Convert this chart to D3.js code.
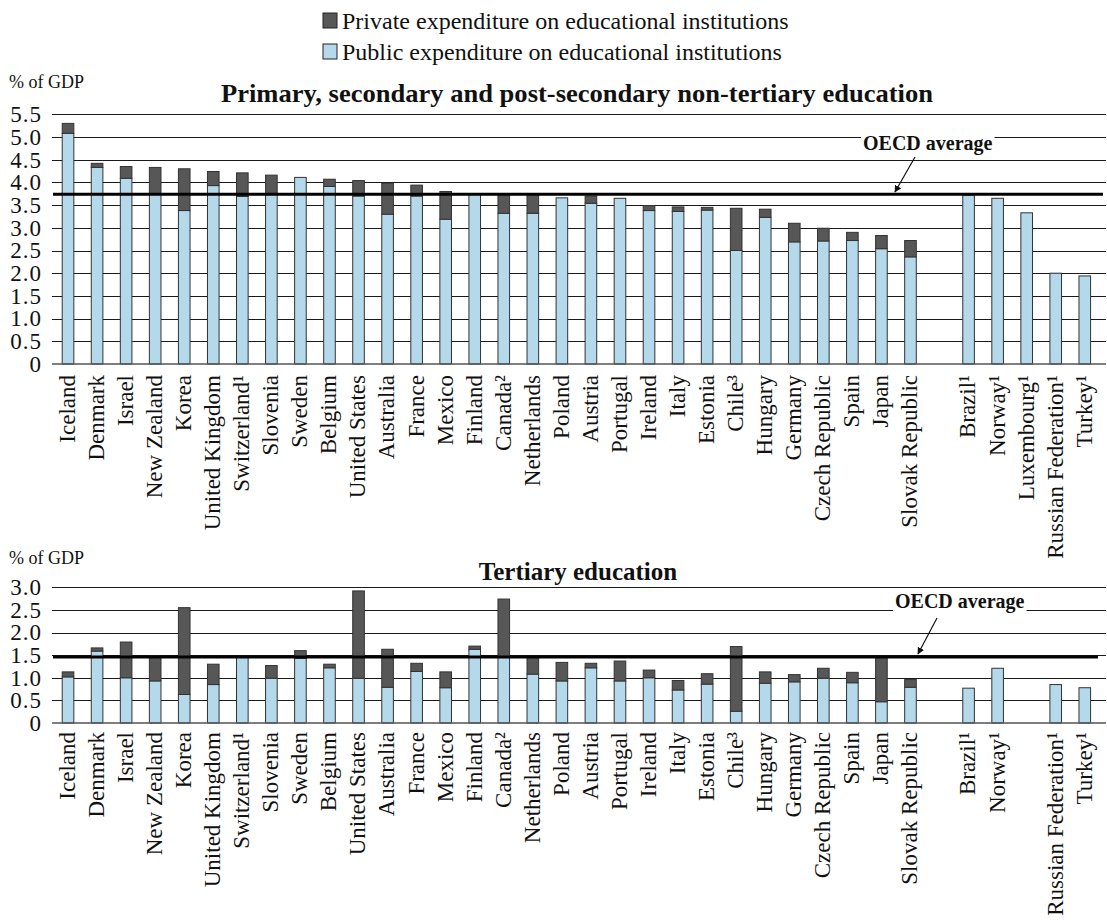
<!DOCTYPE html>
<html>
<head>
<meta charset="utf-8">
<script src="https://cdn.jsdelivr.net/npm/d3@7"></script>
<style>
  html, body { margin: 0; padding: 0; background: #fff; }
  svg { display: block; font-family: "Liberation Serif", "Times New Roman", serif; }
</style>
</head>
<body>
<svg id="chart" width="1107" height="920"></svg>
<script>
// ---------------- DATA ----------------
const categories = ["Iceland","Denmark","Israel","New Zealand","Korea","United Kingdom","Switzerland¹","Slovenia","Sweden","Belgium","United States","Australia","France","Mexico","Finland","Canada²","Netherlands","Poland","Austria","Portugal","Ireland","Italy","Estonia","Chile³","Hungary","Germany","Czech Republic","Spain","Japan","Slovak Republic","Brazil¹","Norway¹","Luxembourg¹","Russian Federation¹","Turkey¹"];
const gapAfter = "Slovak Republic";

// Primary, secondary and post-secondary non-tertiary education (% of GDP)
const primaryPublic  = [5.08,4.33,4.09,3.74,3.38,3.93,3.69,3.74,4.11,3.91,3.70,3.30,3.70,3.19,3.75,3.32,3.32,3.66,3.54,3.65,3.38,3.36,3.39,2.50,3.23,2.69,2.71,2.72,2.54,2.36,3.72,3.65,3.33,2.00,1.94];
const primaryPrivate = [0.22,0.09,0.26,0.59,0.92,0.31,0.52,0.42,0.00,0.16,0.34,0.68,0.24,0.61,0.00,0.43,0.43,0.00,0.16,0.00,0.11,0.10,0.06,0.93,0.18,0.41,0.28,0.18,0.29,0.36,0,0,0,0,0];
const primaryOECD = 3.74;

// Tertiary education (% of GDP); null = not shown
const tertiaryPublic  = [1.02,1.59,1.00,0.93,0.63,0.85,1.47,0.99,1.43,1.22,0.99,0.79,1.14,0.78,1.63,1.47,1.08,0.93,1.22,0.93,1.00,0.73,0.86,0.26,0.88,0.91,0.99,0.89,0.47,0.79,0.77,1.21,null,0.85,0.78];
const tertiaryPrivate = [0.11,0.07,0.79,0.55,1.92,0.45,0.00,0.28,0.17,0.08,1.93,0.84,0.18,0.35,0.07,1.27,0.39,0.41,0.10,0.44,0.17,0.21,0.23,1.43,0.25,0.16,0.22,0.23,0.98,0.17,0,0,null,0,0];
const tertiaryOECD = 1.46;

const primaryTicks  = [0,0.5,1.0,1.5,2.0,2.5,3.0,3.5,4.0,4.5,5.0,5.5];
const tertiaryTicks = [0,0.5,1.0,1.5,2.0,2.5,3.0];

const legendLabels = ["Private expenditure on educational institutions","Public expenditure on educational institutions"];
const titles = ["Primary, secondary and post-secondary non-tertiary education","Tertiary education"];
const yAxisLabel = "% of GDP";
const avgLabel = "OECD average";

// ---------------- STYLE ----------------
const COL_PUBLIC = "#b4d9eb";
const COL_PRIVATE = "#575757";
const COL_EDGE = "#333333";

const svg = d3.select("#chart");

// slot domain with a blank gap slot
const slots = [];
categories.forEach(c => { slots.push(c); if (c === gapAfter) slots.push("__gap__"); });

const x = d3.scaleBand().domain(slots).range([53.5, 1099.3]).paddingInner(0.6).paddingOuter(0.3);

const GRID_X0 = 52, GRID_X1 = 1106;

function panel(cfg) {
  const y = d3.scaleLinear().domain([0, cfg.max]).range([cfg.y0, cfg.y1]);
  const g = svg.append("g");

  // gridlines
  g.append("g")
    .attr("transform", `translate(${GRID_X0},0)`)
    .call(d3.axisLeft(y).tickValues(cfg.ticks.filter(d => d > 0)).tickSize(-(GRID_X1 - GRID_X0)).tickFormat(""))
    .call(a => a.select(".domain").remove())
    .call(a => a.selectAll("line").attr("stroke", "#1a1a1a").attr("stroke-width", 1).attr("shape-rendering", "crispEdges"));

  // y tick labels
  g.append("g")
    .attr("transform", `translate(44,0)`)
    .call(d3.axisLeft(y).tickValues(cfg.ticks).tickSize(0).tickPadding(2).tickFormat(d => d === 0 ? "0" : d3.format(".1f")(d)))
    .call(a => a.select(".domain").remove())
    .call(a => a.selectAll("text").attr("font-size", 23).attr("letter-spacing", 1).attr("fill", "#111").attr("font-family", "Liberation Serif, serif"));

  // bars
  const rows = categories.map((c, i) => ({ c, pub: cfg.pub[i], priv: cfg.priv[i] })).filter(d => d.pub !== null);
  const bars = g.append("g");
  bars.selectAll("rect.pub").data(rows).join("rect")
    .attr("class", "pub")
    .attr("x", d => x(d.c)).attr("width", x.bandwidth())
    .attr("y", d => y(d.pub)).attr("height", d => y(0) - y(d.pub))
    .attr("fill", COL_PUBLIC).attr("stroke", COL_EDGE).attr("stroke-width", 1);
  bars.selectAll("rect.priv").data(rows.filter(d => d.priv > 0)).join("rect")
    .attr("class", "priv")
    .attr("x", d => x(d.c)).attr("width", x.bandwidth())
    .attr("y", d => y(d.pub + d.priv)).attr("height", d => y(d.pub) - y(d.pub + d.priv))
    .attr("fill", COL_PRIVATE).attr("stroke", COL_EDGE).attr("stroke-width", 1);

  // zero axis line
  g.append("line").attr("x1", GRID_X0).attr("x2", GRID_X1).attr("y1", y(0)).attr("y2", y(0))
    .attr("stroke", "#555").attr("stroke-width", 1.5);

  // category labels
  const labelled = categories.filter((c, i) => cfg.pub[i] !== null);
  const xa = g.append("g").attr("transform", `translate(0,${y(0)})`)
    .call(d3.axisBottom(x).tickValues(labelled).tickSize(0))
    .call(a => a.select(".domain").remove());
  xa.selectAll("text")
    .attr("transform", "rotate(-90)")
    .attr("x", -(cfg.labelGap)).attr("y", 0).attr("dy", "0.3em")
    .style("text-anchor", "end")
    .attr("font-size", 23).attr("fill", "#111").attr("font-family", "Liberation Serif, serif");

  // OECD average line
  g.append("line").attr("x1", 53).attr("x2", cfg.avgX1).attr("y1", y(cfg.avg)).attr("y2", y(cfg.avg))
    .attr("stroke", "#000").attr("stroke-width", 3);

  // OECD label with white background
  const lab = g.append("g");
  const bgRect = lab.append("rect").attr("fill", "#fff");
  const t = lab.append("text").attr("x", cfg.avgLabelX).attr("y", cfg.avgLabelBaseline)
    .attr("font-size", 20).attr("font-weight", "bold").attr("fill", "#111").text(avgLabel);
  const bb = t.node().getBBox();
  bgRect.attr("x", bb.x - 2).attr("y", bb.y).attr("width", bb.width + 4).attr("height", bb.height);

  // arrow
  g.append("line")
    .attr("x1", cfg.arrow[0]).attr("y1", cfg.arrow[1]).attr("x2", cfg.arrow[2]).attr("y2", cfg.arrow[3])
    .attr("stroke", "#111").attr("stroke-width", 1.2).attr("marker-end", "url(#arrowhead)");

  // axis unit label
  g.append("text").attr("x", 9).attr("y", cfg.unitBaseline).attr("font-size", 18).attr("fill", "#111").text(yAxisLabel);

  // title
  const tt = g.append("text").attr("y", cfg.titleBaseline).attr("font-size", 25).attr("font-weight", "bold").attr("fill", "#111").text(cfg.title);
  if (cfg.titleX0 !== undefined) {
    tt.attr("x", cfg.titleX0).attr("textLength", cfg.titleWidth).attr("lengthAdjust", "spacingAndGlyphs");
  } else {
    tt.attr("x", cfg.titleCX).attr("text-anchor", "middle");
  }
}

// arrow marker
svg.append("defs").append("marker")
  .attr("id", "arrowhead").attr("viewBox", "0 0 10 10").attr("refX", 9).attr("refY", 5)
  .attr("markerWidth", 7).attr("markerHeight", 7).attr("orient", "auto-start-reverse")
  .attr("markerUnits", "userSpaceOnUse")
  .append("path").attr("d", "M0,0 L10,5 L0,10 z").attr("fill", "#111");

// legend
const legendColors = [COL_PRIVATE, COL_PUBLIC];
const legendBaselines = [29, 60];
const lg = svg.append("g");
legendLabels.forEach((lbl, i) => {
  lg.append("rect").attr("x", 323).attr("y", legendBaselines[i] - 16).attr("width", 14).attr("height", 15)
    .attr("fill", legendColors[i]).attr("stroke", "#222").attr("stroke-width", 1);
  lg.append("text").attr("x", 342).attr("y", legendBaselines[i]).attr("font-size", 24).attr("fill", "#111").text(lbl);
});

panel({
  y0: 364, y1: 114.3, max: 5.5, ticks: primaryTicks,
  pub: primaryPublic, priv: primaryPrivate, avg: primaryOECD,
  labelGap: 11, avgX1: 1103,
  avgLabelX: 863, avgLabelBaseline: 150,
  arrow: [915, 157, 895, 192],
  unitBaseline: 88, titleBaseline: 102, title: titles[0], titleX0: 221, titleWidth: 712
});

panel({
  y0: 723, y1: 587.3, max: 3.0, ticks: tertiaryTicks,
  pub: tertiaryPublic, priv: tertiaryPrivate, avg: tertiaryOECD,
  labelGap: 9, avgX1: 1098,
  avgLabelX: 895, avgLabelBaseline: 608,
  arrow: [937, 618, 918, 654],
  unitBaseline: 564, titleBaseline: 580, title: titles[1], titleCX: 578
});
</script>
</body>
</html>
